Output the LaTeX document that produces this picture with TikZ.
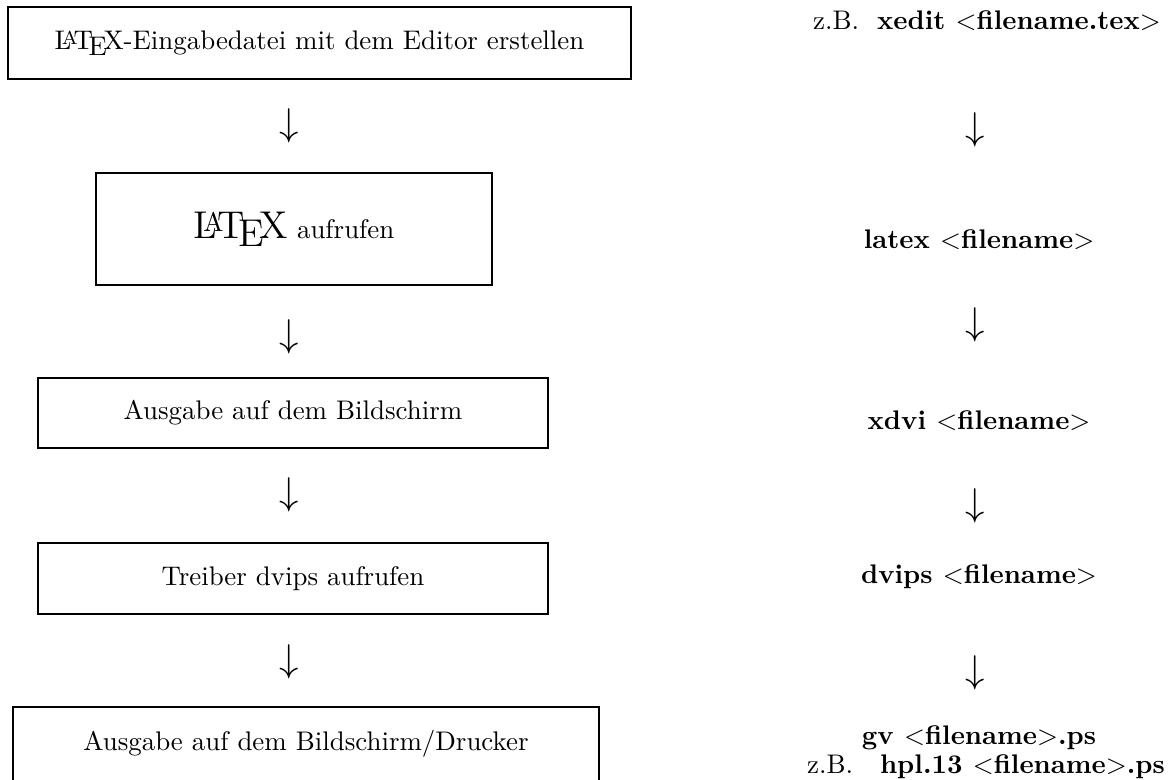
\documentclass[tikz,border=0pt]{standalone}
\begin{document}
\begin{tikzpicture}[x=0.3717pt,y=-0.3717pt,
  box/.style={draw,line width=0.55pt,inner sep=0pt,font=\normalsize},
  dn/.style={inner sep=0pt,font=\Large},
  cmd/.style={inner sep=0pt,font=\bfseries}]
\clip (0,0) rectangle (1170,779);
% left column boxes
\node[box,minimum width=623*0.3717pt,minimum height=72*0.3717pt] (b1) at (319.5,43)
  {\LaTeX-Eingabedatei mit dem Editor erstellen};
\node[box,minimum width=396*0.3717pt,minimum height=112*0.3717pt] (b2) at (294,229)
  {{\Large\LaTeX} aufrufen};
\node[box,minimum width=510*0.3717pt,minimum height=70*0.3717pt] (b3) at (293,413)
  {Ausgabe auf dem Bildschirm};
\node[box,minimum width=510*0.3717pt,minimum height=71*0.3717pt] (b4) at (293,578.5)
  {Treiber dvips aufrufen};
\node[box,minimum width=586*0.3717pt,minimum height=74*0.3717pt] (b5) at (306,744)
  {Ausgabe auf dem Bildschirm/Drucker};
% left arrows
\node[dn] (la1) at (289,125.5) {$\downarrow$};
\node[dn] (la2) at (289,337) {$\downarrow$};
\node[dn] (la3) at (289,495) {$\downarrow$};
\node[dn] (la4) at (289,662) {$\downarrow$};
% right column
\node[inner sep=0pt] (r1) at (987,21) {z.B.\ \ \textbf{xedit $<$filename.tex$>$}};
\node[dn] (ra1) at (975,130) {$\downarrow$};
\node[cmd] (r2) at (979,240) {latex $<$filename$>$};
\node[dn] (ra2) at (975,325) {$\downarrow$};
\node[cmd] (r3) at (979,421) {xdvi $<$filename$>$};
\node[dn] (ra3) at (975,506) {$\downarrow$};
\node[cmd] (r4) at (979,577) {dvips $<$filename$>$};
\node[dn] (ra4) at (975,673) {$\downarrow$};
\node[cmd] (r5) at (979,738) {gv $<$filename$>$.ps};
\node[inner sep=0pt] (r6) at (986,767) {z.B.\ \ \ \textbf{hpl.13 $<$filename$>$.ps}};
\end{tikzpicture}
\end{document}
